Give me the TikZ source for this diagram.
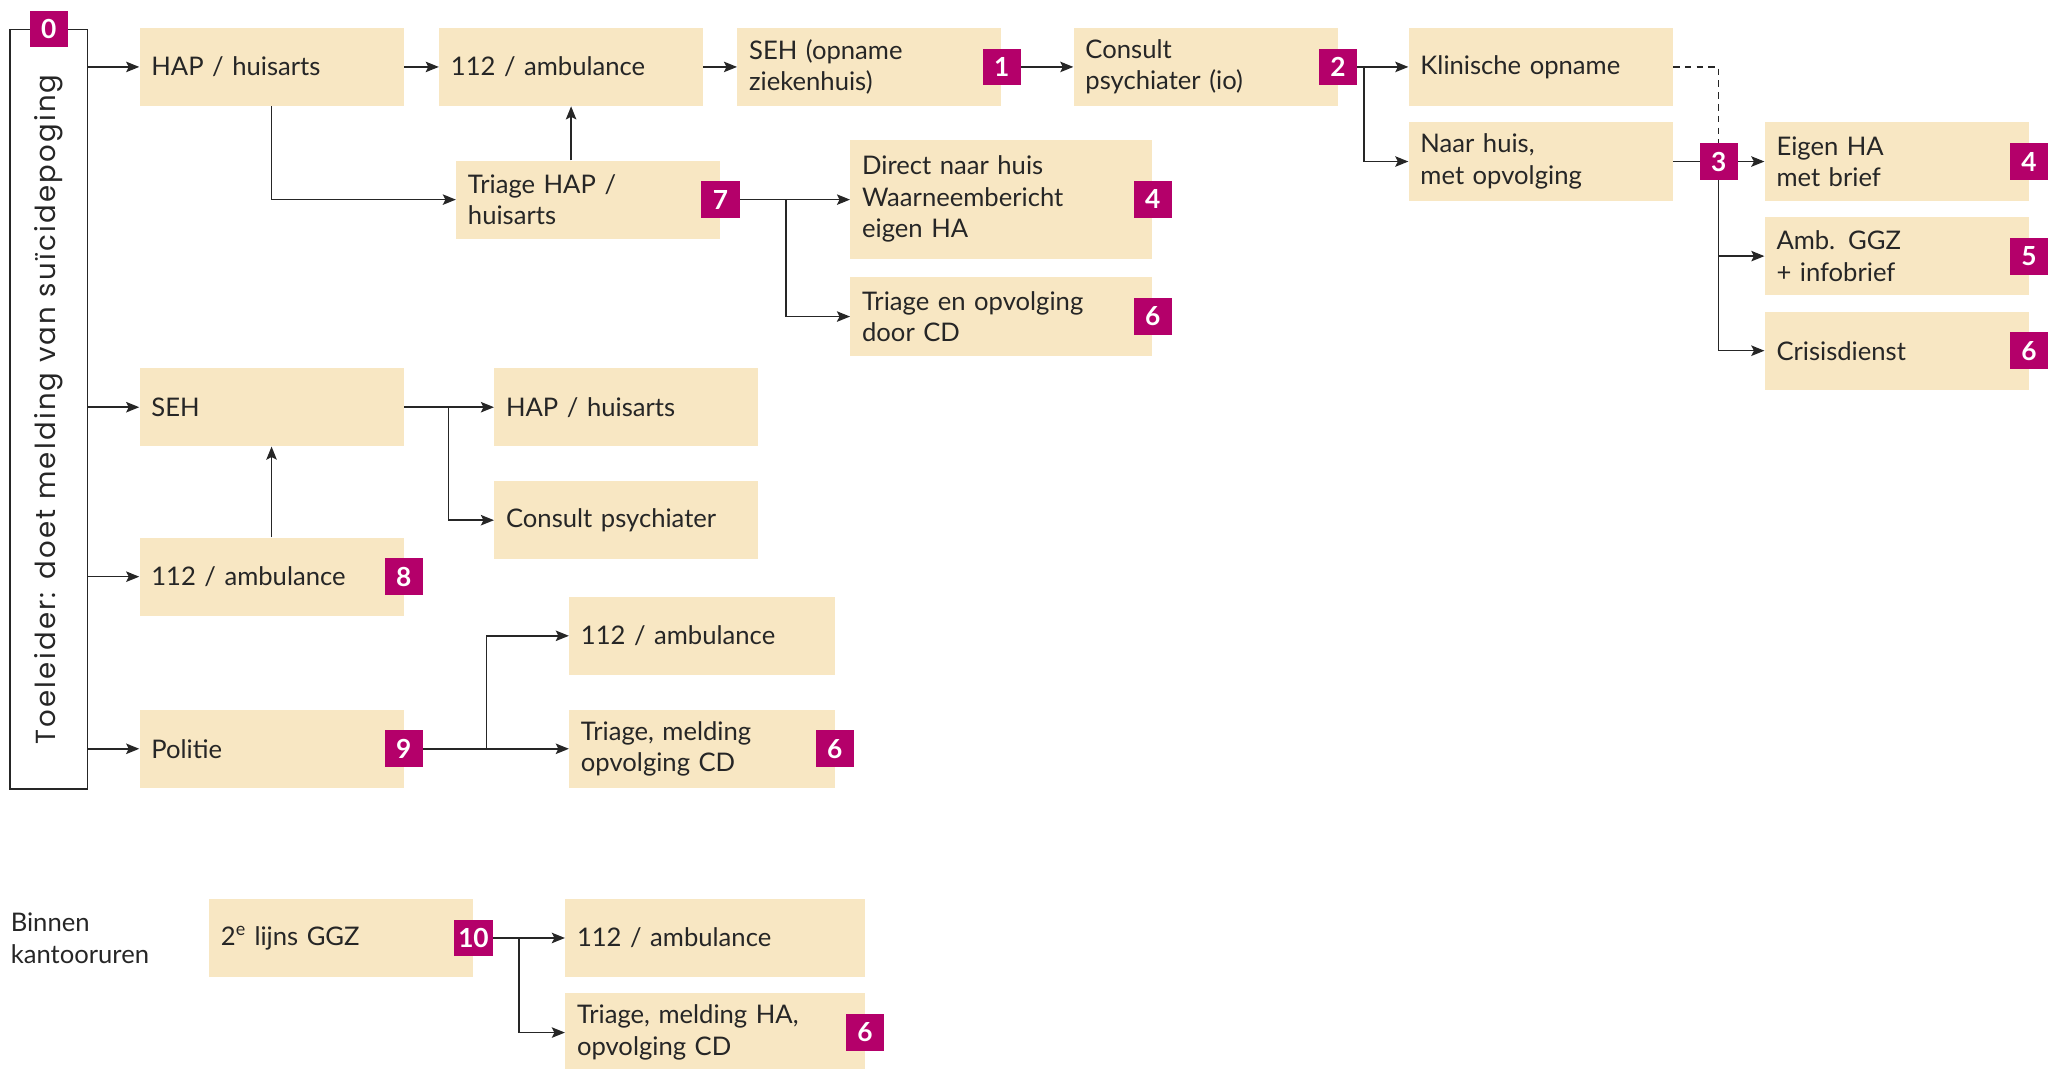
\documentclass[tikz,border=0pt]{standalone}
\usepackage{fontspec}
\setmainfont{Lato}
\newfontfamily\vfont[LetterSpace=8]{Poppins}
\usetikzlibrary{arrows.meta,calc}
\definecolor{boxfill}{HTML}{F8E7C3}
\definecolor{badgecol}{HTML}{B4006A}
\definecolor{ink}{HTML}{262626}
\pgfdeclarelayer{background}
\pgfsetlayers{background,main}
\tikzset{
  box/.style={fill=boxfill, inner xsep=9pt, inner ysep=0pt, minimum height=59.5pt,
    text width=#1, align=left, anchor=north west, text=ink,
    font=\fontsize{19.5}{24}\selectfont},
  badge/.style={fill=badgecol, text=white, font=\bfseries\fontsize{20}{20}\selectfont,
    minimum width=29pt, minimum height=28pt, inner sep=0pt},
  arr/.style={draw=ink, line width=1.1pt, -{Stealth[length=10pt,width=8pt,inset=2pt]}},
  dline/.style={draw=ink, line width=1pt, dash pattern=on 5pt off 4pt},
}
\begin{document}
\begin{tikzpicture}[x=1pt,y=-1pt]
\useasboundingbox (0,0) rectangle (1568,813);
% left frame
\node[draw=ink, line width=1.2pt, minimum width=59pt, minimum height=578pt, anchor=north west, inner sep=0pt] (vbox) at (7,22) {};
\node[rotate=90, text=ink, font=\vfont\fontsize{21}{22}\selectfont] (vtext) at ($(vbox.center)+(0,0)$) {Toeleider: doet melding van suïcidepoging};
% boxes
\node[box=183pt] (hap1) at (106,21) {HAP / huisarts};
\node[box=183pt] (amb1) at (334,21) {112 / ambulance};
\node[box=183pt] (sehz) at (561,21) {SEH (opname\\ziekenhuis)};
\node[box=183pt] (cpio) at (817,21) {Consult\\psychiater (io)};
\node[box=183pt] (klin) at (1072,21) {Klinische opname};
\node[box=183pt] (naar) at (1072,93) {Naar huis,\\met opvolging};
\node[box=183pt] (eigen) at (1343,93) {Eigen HA\\met brief};
\node[box=183pt] (ambg) at (1343,165) {Amb. GGZ\\+ infobrief};
\node[box=183pt] (cris) at (1343,237) {Crisisdienst};
\node[box=183pt] (thap) at (347,122) {Triage HAP /\\huisarts};
\node[box=212pt, minimum height=91pt] (direct) at (647,106) {Direct naar huis\\Waarneembericht\\eigen HA};
\node[box=212pt] (tcd) at (647,211) {Triage en opvolging\\door CD};
\node[box=183pt] (seh) at (106,280) {SEH};
\node[box=183pt] (hap2) at (376,280) {HAP / huisarts};
\node[box=183pt] (cons) at (376,366) {Consult psychiater};
\node[box=183pt] (amb8) at (106,409) {112 / ambulance};
\node[box=183pt] (pol) at (106,540) {Politie};
\node[box=184pt] (amb9) at (433,454) {112 / ambulance};
\node[box=184pt] (tri9) at (433,540) {Triage, melding\\opvolging CD};
\node[box=183pt] (ggz) at (159,684) {2\textsuperscript{e} lijns GGZ};
\node[box=210pt] (amb10) at (430,684) {112 / ambulance};
\node[box=210pt] (tri10) at (430,756) {Triage, melding HA,\\opvolging CD};
\node[anchor=west, align=left, inner sep=0pt, text=ink, font=\fontsize{19.5}{24}\selectfont] (binnen) at (8,714) {Binnen\\kantooruren};
% badges
\node[badge] (b0) at (vbox.north) {0};
\node[badge] (b1) at (sehz.east) {1};
\node[badge] (b2) at (cpio.east) {2};
\node[badge] (b3) at ($(naar.east)!0.5!(eigen.west)$) {3};
\node[badge] (b4a) at (eigen.east) {4};
\node[badge] (b5) at (ambg.east) {5};
\node[badge] (b6a) at (cris.east) {6};
\node[badge] (b7) at (thap.east) {7};
\node[badge] (b4b) at (direct.east) {4};
\node[badge] (b6b) at (tcd.east) {6};
\node[badge] (b8) at (amb8.east) {8};
\node[badge] (b9) at (pol.east) {9};
\node[badge] (b6c) at (tri9.east) {6};
\node[badge] (b10) at (ggz.east) {10};
\node[badge] (b6d) at (tri10.east) {6};
% connectors
\begin{pgfonlayer}{background}
\draw[arr] (vbox.east |- hap1.west) -- (hap1.west);
\draw[arr] (vbox.east |- seh.west) -- (seh.west);
\draw[arr] (vbox.east |- amb8.west) -- (amb8.west);
\draw[arr] (vbox.east |- pol.west) -- (pol.west);
\draw[arr] (hap1.east) -- (amb1.west);
\draw[arr] (amb1.east) -- (sehz.west);
\draw[arr] (b1.east) -- (cpio.west);
\draw[arr] (b2.east) -- (klin.west);
\draw[arr] ($(b2.east)+(5,0)$) |- (naar.west);
\draw[arr] (naar.east) -- (eigen.west);
\draw[arr] (b3.center) |- (ambg.west);
\draw[arr] (b3.center) |- (cris.west);
\draw[dline] (klin.east) -| (b3.north);
\draw[arr] (hap1.south) |- (thap.west);
\draw[arr] (thap.north -| amb1.south) -- (amb1.south);
\draw[arr] (b7.east) -- (b7.east -| direct.west);
\draw[arr] ($(b7.east)+(35,0)$) |- (tcd.west);
\draw[arr] (seh.east) -- (hap2.west);
\draw[arr] ($(seh.east)+(34,0)$) |- (cons.west);
\draw[arr] (amb8.north) -- (seh.south);
\draw[arr] (b9.east) -- (tri9.west);
\draw[arr] ($(b9.east)+(48,0)$) |- (amb9.west);
\draw[arr] (b10.east) -- (amb10.west);
\draw[arr] ($(b10.east)+(20,0)$) |- (tri10.west);
\end{pgfonlayer}
\end{tikzpicture}
\end{document}
